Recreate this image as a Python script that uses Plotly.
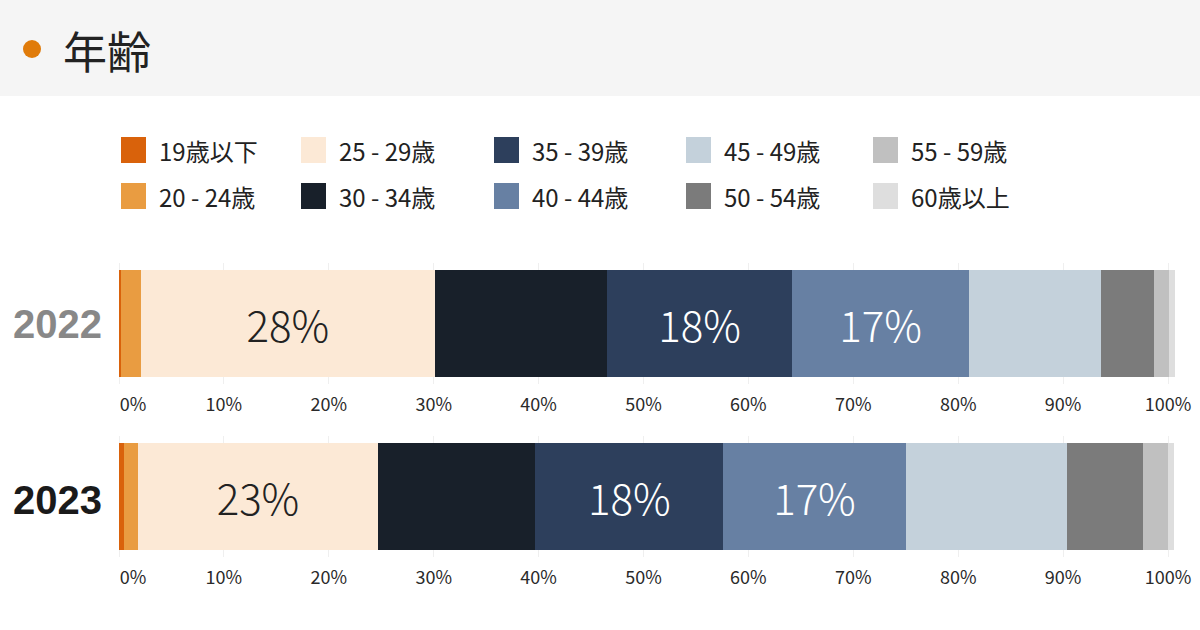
import plotly.graph_objects as go

W, H = 1200, 630

# ---------------- data ----------------
years = ["2022", "2023"]
age_groups = ["19歳以下", "20 - 24歳", "25 - 29歳", "30 - 34歳", "35 - 39歳",
              "40 - 44歳", "45 - 49歳", "50 - 54歳", "55 - 59歳", "60歳以上"]
values_2022 = [0.2, 1.9, 28.0, 16.4, 17.7, 16.8, 12.6, 5.1, 1.4, 0.6]
values_2023 = [0.5, 1.3, 22.9, 15.0, 17.9, 17.4, 15.4, 7.2, 2.4, 0.6]
labelled_groups = ["25 - 29歳", "35 - 39歳", "40 - 44歳"]
tick_values = [0, 10, 20, 30, 40, 50, 60, 70, 80, 90, 100]
tick_labels = ["0%", "10%", "20%", "30%", "40%", "50%", "60%", "70%", "80%", "90%", "100%"]
title_text = "年齢"

# ---------------- style ----------------
colors = ["#d9620b", "#e99c41", "#fce9d6", "#18202a", "#2d3f5c",
          "#6780a3", "#c4d1db", "#7b7b7b", "#c0c0c0", "#dedede"]
text_colors = ["#222222", "#222222", "#222222", "#ffffff", "#ffffff",
               "#ffffff", "#222222", "#ffffff", "#222222", "#222222"]
JP = "Noto Sans CJK JP"
NUM = "Noto Sans CJK JP"


def px_x(p):
    return p / W


def px_y(p):
    return 1 - p / H


fig = go.Figure()

series = [values_2022, values_2023]
for yi, vals in enumerate(series):
    xa = "x" if yi == 0 else "x2"
    ya = "y" if yi == 0 else "y2"
    for gi, g in enumerate(age_groups):
        v = vals[gi]
        txt = f"{round(v)}%" if g in labelled_groups else ""
        fig.add_trace(go.Bar(
            x=[v], y=[0], orientation="h", name=g,
            marker=dict(color=colors[gi], line=dict(width=0)),
            text=[txt], textposition="inside", insidetextanchor="middle",
            textangle=0, constraintext="none",
            textfont=dict(family=NUM, size=42, color=text_colors[gi], weight=300),
            width=107 / 121, showlegend=False, hoverinfo="x+name",
            xaxis=xa, yaxis=ya,
        ))

# axes
x_dom = [px_x(108), 1.0]
x_range = [(108 - 119) / 10.49, (1200 - 119) / 10.49]
tick_text = ["\u00a0" * 7 + tick_labels[0]] + tick_labels[1:]
axis_common = dict(
    domain=x_dom, range=x_range, tickvals=tick_values, ticktext=tick_text,
    showgrid=True, gridcolor="#efefef", gridwidth=1, zeroline=False,
    showline=False, ticks="", tickfont=dict(family=NUM, size=18, color="#2a2a2a"),
    ticklabelstandoff=8, fixedrange=True, automargin=False,
)
y_common = dict(range=[-0.5, 0.5], showticklabels=False, showgrid=False,
                zeroline=False, fixedrange=True, automargin=False)
fig.update_layout(
    xaxis=dict(anchor="y", **axis_common),
    xaxis2=dict(anchor="y2", **axis_common),
    yaxis=dict(domain=[px_y(384), px_y(263)], **y_common),
    yaxis2=dict(domain=[px_y(557), px_y(436)], **y_common),
    barmode="stack",
    width=W, height=H,
    margin=dict(l=0, r=0, t=0, b=0, pad=0, autoexpand=False),
    paper_bgcolor="#ffffff", plot_bgcolor="rgba(0,0,0,0)",
)

shapes = [
    dict(type="rect", xref="paper", yref="paper", x0=0, x1=1, y0=px_y(96), y1=1,
         fillcolor="#f5f5f5", line=dict(width=0), layer="below"),
    dict(type="circle", xref="paper", yref="paper",
         x0=px_x(23), x1=px_x(41), y0=px_y(58), y1=px_y(40),
         fillcolor="#e07b0a", line=dict(width=0)),
]
annotations = [
    dict(text=title_text, xref="paper", yref="paper", x=px_x(61), y=px_y(50),
         xanchor="left", yanchor="middle", showarrow=False,
         font=dict(family=JP, size=44, color="#222222")),
]

# year labels
year_y = [324, 500]
year_colors = ["#888888", "#1a1a1a"]
for i, yr in enumerate(years):
    annotations.append(dict(
        text=f"<b>{yr}</b>", xref="paper", yref="paper", x=px_x(104), y=px_y(year_y[i]),
        xanchor="right", yanchor="middle", showarrow=False,
        font=dict(family="Liberation Sans", size=40, color=year_colors[i])))

# legend (column-major, 2 rows x 5 columns)
col_sw = [121, 301, 494, 686, 873]
row_c = [150, 196]
for gi, g in enumerate(age_groups):
    c, r = gi // 2, gi % 2
    x0 = col_sw[c]
    yc = row_c[r]
    shapes.append(dict(type="rect", xref="paper", yref="paper",
                       x0=px_x(x0), x1=px_x(x0 + 25), y0=px_y(yc + 13), y1=px_y(yc - 13),
                       fillcolor=colors[gi], line=dict(width=0)))
    annotations.append(dict(text=g, xref="paper", yref="paper",
                            x=px_x(x0 + 36), y=px_y(yc), xanchor="left", yanchor="middle",
                            showarrow=False,
                            font=dict(family=JP, size=24, color="#222222")))

fig.update_layout(shapes=shapes, annotations=annotations)
fig.write_html(
    "out.html",
    config={"displayModeBar": False},
    post_script=(
        "document.documentElement.style.margin='0';"
        "document.body.style.margin='0';document.body.style.padding='0';"
        "document.body.style.overflow='hidden';"
        "var d=document.getElementsByClassName('plotly-graph-div')[0];"
        "d.style.position='absolute';d.style.left='0px';d.style.top='0px';"
    ),
)
